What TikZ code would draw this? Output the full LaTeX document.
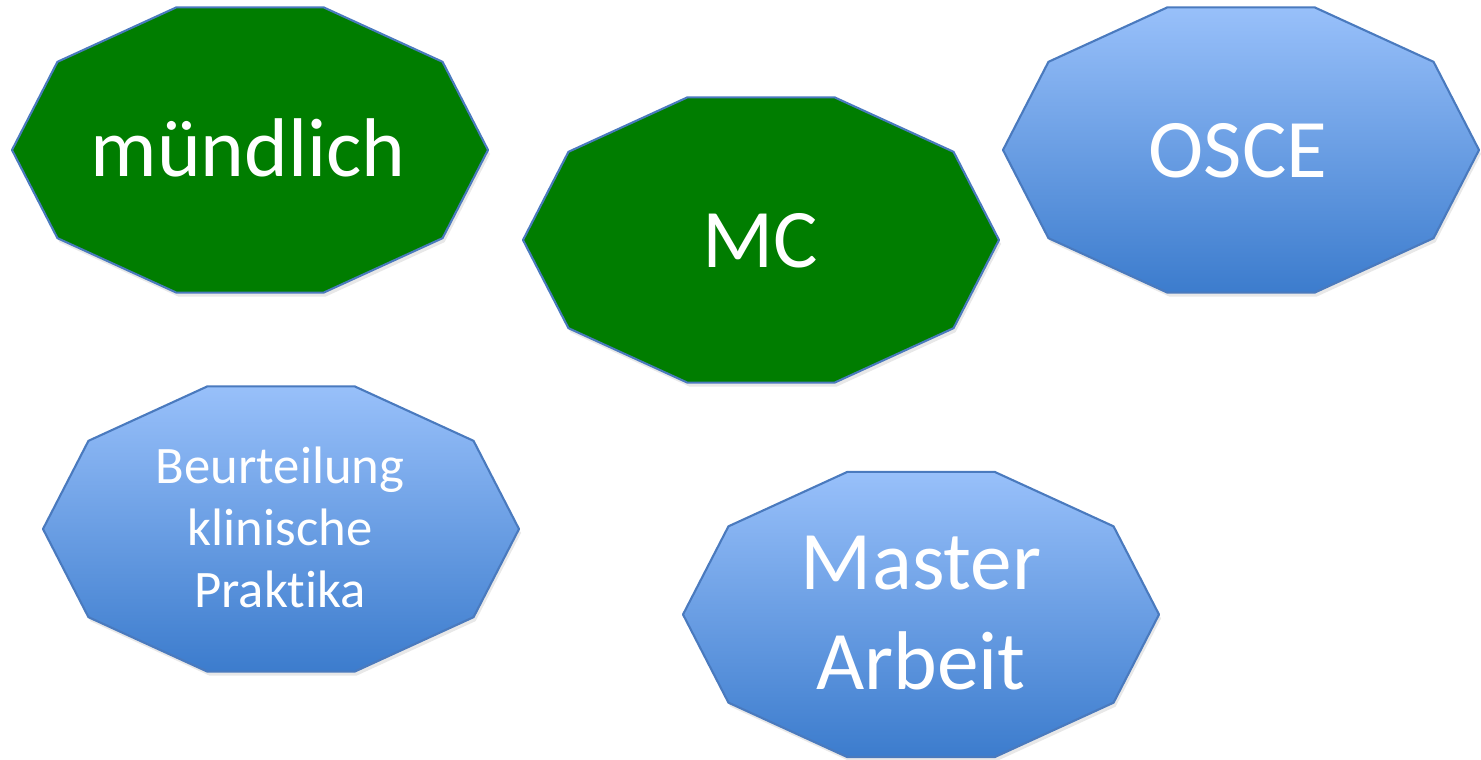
\documentclass[tikz,border=0pt]{standalone}
\usepackage{fontspec}
\setmainfont{Carlito}[Ligatures=CommonOff]
\usetikzlibrary{shadows}

\definecolor{examgreen}{RGB}{0,125,0}
\definecolor{bluetop}{RGB}{152,192,250}
\definecolor{bluebottom}{RGB}{60,124,205}
\definecolor{edgeblue}{RGB}{74,122,190}

\begin{document}
\begin{tikzpicture}[
    shape base/.style={draw=edgeblue, line width=0.6pt, line join=round,
        drop shadow={shadow xshift=0.02, shadow yshift=-0.04, opacity=0.18}},
    green shape/.style={shape base, fill=examgreen},
    blue shape/.style={shape base, top color=bluetop, bottom color=bluebottom},
    big label/.style={text=white, anchor=base, align=center, inner sep=0pt,
        font=\fontsize{23.7}{28.5}\selectfont},
    small label/.style={text=white, anchor=base, align=center, inner sep=0pt,
        font=\fontsize{15}{17.7}\selectfont}
]
\useasboundingbox (0,0) rectangle (14.81,-7.60);

% decagons
\foreach \cx/\cy/\look in {2.50/-1.50/green shape, 7.61/-2.40/green shape,
    12.41/-1.50/blue shape, 2.81/-5.29/blue shape, 9.21/-6.145/blue shape}
  \draw[\look, shift={(\cx,\cy)}] (0:2.38cm and 1.5cm)
    \foreach \a in {36,72,...,324} { -- (\a:2.38cm and 1.5cm) } -- cycle;

% labels (base = last line)
\node[big label] (mund) at (2.48,-1.77) {mündlich};
\node[big label] (mc) at (7.60,-2.677) {MC};
\node[big label] (osce) at (12.38,-1.777) {OSCE};
\node[small label] (beurt) at (2.80,-6.08) {Beurteilung\\klinische\\Praktika};
\node[big label] (master) at (9.21,-6.90) {Master\\Arbeit};
\end{tikzpicture}
\end{document}
